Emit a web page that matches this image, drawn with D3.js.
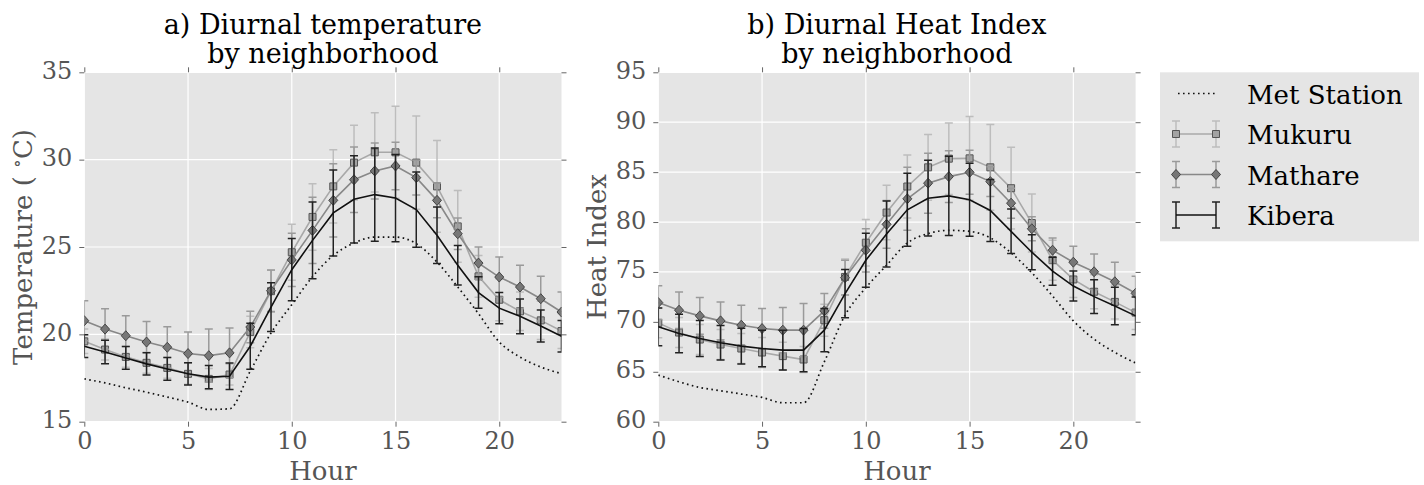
<!DOCTYPE html>
<html>
<head>
<meta charset="utf-8">
<script src="https://cdn.jsdelivr.net/npm/d3@7"></script>
<style>
  body { margin: 0; background: #fff; }
  svg text { font-family: "DejaVu Serif", serif; }
</style>
</head>
<body>
<svg id="chart"></svg>
<script>
const width = 1424, height = 485

// hour of day
const hours = d3.range(0, 24)

// a) temperature (deg C)
const metTemp  = [17.45, 17.22, 16.94, 16.69, 16.41, 16.12, 15.70, 15.74, 17.9, 20.08, 21.7, 23.3, 24.52, 25.23, 25.57, 25.57, 25.19, 24.14, 22.71, 21.18, 19.56, 18.7, 18.13, 17.75]
const mukTemp  = [19.6, 19.13, 18.71, 18.37, 18.08, 17.74, 17.45, 17.7, 20.13, 22.47, 24.7, 26.72, 28.47, 29.83, 30.42, 30.42, 29.83, 28.47, 26.18, 23.32, 21.98, 21.32, 20.8, 20.19]
const mukTempErr = [0.7, 0.6, 0.6, 0.6, 0.6, 0.6, 0.6, 0.6, 0.9, 1.2, 1.6, 1.9, 2.1, 2.14, 2.27, 2.63, 2.67, 2.63, 2.06, 1.2, 1.2, 1.1, 1.1, 1.0]
const mathTemp = [20.78, 20.3, 19.92, 19.56, 19.26, 18.9, 18.78, 18.94, 20.42, 22.5, 24.26, 25.95, 27.67, 28.85, 29.35, 29.64, 28.97, 27.67, 25.76, 24.08, 23.28, 22.71, 22.04, 21.28]
const mathTempErr = [1.14, 1.16, 1.14, 1.18, 1.18, 1.23, 1.52, 1.42, 0.9, 1.19, 1.52, 1.9, 2.1, 1.88, 1.6, 1.36, 1.0, 1.0, 0.9, 0.92, 1.15, 1.24, 1.28, 1.14]
const kibTemp  = [19.32, 18.99, 18.65, 18.31, 18.02, 17.74, 17.55, 17.6, 19.32, 21.56, 23.7, 25.38, 26.95, 27.73, 28.0, 27.8, 27.14, 25.67, 23.95, 22.39, 21.5, 21.03, 20.48, 19.89]
const kibTempErr = [0.65, 0.67, 0.65, 0.63, 0.65, 0.64, 0.67, 0.76, 1.32, 1.4, 1.78, 2.2, 2.46, 2.5, 2.67, 2.5, 2.15, 1.62, 1.13, 0.9, 0.9, 1.0, 0.92, 0.9]

// b) heat index
const metHI  = [64.67, 64.0, 63.43, 63.1, 62.77, 62.43, 61.9, 61.9, 66.0, 70.67, 73.43, 75.67, 77.9, 78.84, 79.17, 79.07, 78.41, 76.91, 74.92, 72.59, 70.1, 68.27, 66.94, 65.88]
const mukHI  = [69.9, 68.93, 68.23, 67.73, 67.33, 66.93, 66.57, 66.23, 70.17, 74.5, 77.93, 80.95, 83.56, 85.48, 86.35, 86.38, 85.48, 83.39, 79.9, 76.18, 74.25, 73.02, 72.0, 70.93]
const mukHIErr = [1.5, 1.5, 1.5, 1.5, 1.5, 1.5, 1.4, 1.3, 1.6, 1.8, 2.33, 2.73, 3.15, 3.29, 3.58, 4.2, 4.3, 4.09, 2.9, 2.0, 1.8, 1.7, 1.7, 1.7]
const mathHI = [71.93, 71.17, 70.6, 70.1, 69.67, 69.33, 69.17, 69.17, 71.1, 74.43, 77.17, 79.77, 82.33, 83.89, 84.55, 84.98, 84.05, 81.89, 79.33, 77.18, 75.98, 75.02, 74.02, 72.86]
const mathHIErr = [1.7, 1.83, 1.83, 1.9, 2.0, 2.0, 2.26, 2.66, 1.73, 1.74, 2.17, 2.4, 3.15, 3.0, 2.6, 2.2, 1.5, 1.5, 1.2, 1.23, 1.6, 1.79, 1.96, 1.7]
const kibHI  = [69.5, 68.83, 68.33, 67.9, 67.57, 67.33, 67.17, 67.17, 69.17, 72.83, 76.17, 78.8, 81.23, 82.39, 82.62, 82.23, 81.16, 79.07, 76.98, 75.08, 73.59, 72.53, 71.59, 70.6]
const kibHIErr = [1.9, 1.93, 1.8, 1.73, 1.8, 1.83, 2.0, 2.17, 2.17, 2.42, 2.7, 3.3, 3.66, 3.79, 3.98, 3.66, 3.1, 2.23, 1.75, 1.4, 1.5, 1.7, 1.87, 1.9]

const xTicks = [0, 5, 10, 15, 20]
const tempTicks = [15, 20, 25, 30, 35]
const hiTicks = [60, 65, 70, 75, 80, 85, 90, 95]
const legendNames = ["Met Station", "Mukuru", "Mathare", "Kibera"]

const svg = d3.select("#chart")
    .attr("width", width)
    .attr("height", height)

const top_ = 72.3, bottom_ = 421.7

function drawPanel(cfg) {
    let x = d3.scaleLinear().domain([0, 23]).range([cfg.left, cfg.right])
    let y = d3.scaleLinear().domain(cfg.domain).range([bottom_, top_])
    let g = svg.append("g")

    g.append("rect")
        .attr("x", cfg.left).attr("y", top_)
        .attr("width", cfg.right - cfg.left).attr("height", bottom_ - top_)
        .attr("fill", "#e5e5e5")

    let clipId = "clip" + cfg.id
    svg.append("clipPath").attr("id", clipId)
        .append("rect")
        .attr("x", cfg.left).attr("y", top_)
        .attr("width", cfg.right - cfg.left).attr("height", bottom_ - top_)

    // grid
    g.append("g").selectAll("line").data(xTicks).enter().append("line")
        .attr("x1", d => x(d)).attr("x2", d => x(d))
        .attr("y1", top_).attr("y2", bottom_)
        .attr("stroke", "#fff").attr("stroke-width", 1.2)
    g.append("g").selectAll("line").data(cfg.ticks).enter().append("line")
        .attr("x1", cfg.left).attr("x2", cfg.right)
        .attr("y1", d => y(d)).attr("y2", d => y(d))
        .attr("stroke", "#fff").attr("stroke-width", 1.2)

    // axes
    let styleAxis = (a) => {
        a.select(".domain").remove()
        a.selectAll(".tick line").attr("stroke", "#666").attr("stroke-width", 1)
        a.selectAll(".tick text")
            .attr("fill", "#555")
            .style("font-family", "DejaVu Serif")
            .style("font-size", "24px")
    }
    g.append("g").attr("transform", `translate(0,${bottom_})`)
        .call(d3.axisBottom(x).tickValues(xTicks).tickSize(5).tickPadding(5))
        .call(styleAxis)
    g.append("g").attr("transform", `translate(0,${top_})`)
        .call(d3.axisTop(x).tickValues(xTicks).tickSize(5).tickFormat(""))
        .call(styleAxis)
    g.append("g").attr("transform", `translate(${cfg.left},0)`)
        .call(d3.axisLeft(y).tickValues(cfg.ticks).tickSize(5).tickPadding(7))
        .call(styleAxis)
        .call(a => a.selectAll(".tick text").attr("dy", "0.25em"))
    g.append("g").attr("transform", `translate(${cfg.right},0)`)
        .call(d3.axisRight(y).tickValues(cfg.ticks).tickSize(5).tickFormat(""))
        .call(styleAxis)

    let plot = g.append("g").attr("clip-path", `url(#${clipId})`)

    // met station
    plot.append("path")
        .datum(hours)
        .attr("fill", "none")
        .attr("stroke", "#111")
        .attr("stroke-width", 1.7)
        .attr("stroke-dasharray", "1.6,3.4")
        .attr("d", d3.line().x(h => x(h)).y(h => y(cfg.met[h])).curve(d3.curveMonotoneX))

    let drawSeries = (vals, errs, s) => {
        let sg = plot.append("g")
        sg.append("g").selectAll("path").data(hours).enter().append("path")
            .attr("d", h => {
                let xx = x(h), y1 = y(vals[h] - errs[h]), y2 = y(vals[h] + errs[h])
                return `M${xx},${y1}V${y2}M${xx - 4},${y1}H${xx + 4}M${xx - 4},${y2}H${xx + 4}`
            })
            .attr("fill", "none")
            .attr("stroke", s.err)
            .attr("stroke-width", 1.5)
        sg.append("path")
            .datum(hours)
            .attr("fill", "none")
            .attr("stroke", s.line)
            .attr("stroke-width", 1.6)
            .attr("d", d3.line().x(h => x(h)).y(h => y(vals[h])))
        if (s.marker) {
            sg.append("g").selectAll("path").data(hours).enter().append("path")
                .attr("transform", h => `translate(${x(h)},${y(vals[h])})`)
                .attr("d", s.marker)
                .attr("fill", s.fill)
                .attr("stroke", s.edge)
                .attr("stroke-width", 1)
        }
    }
    drawSeries(cfg.muk, cfg.mukErr, mukStyle)
    drawSeries(cfg.math, cfg.mathErr, mathStyle)
    drawSeries(cfg.kib, cfg.kibErr, kibStyle)

    // titles
    let cx = (cfg.left + cfg.right) / 2
    let title = g.append("text")
        .attr("text-anchor", "middle")
        .attr("fill", "#000")
        .style("font-size", "27px")
    title.append("tspan").attr("x", cx).attr("y", 34).text(cfg.title[0])
    title.append("tspan").attr("x", cx).attr("y", 63).text(cfg.title[1])

    g.append("text")
        .attr("x", cx).attr("y", 480)
        .attr("text-anchor", "middle")
        .attr("fill", "#555")
        .style("font-size", "26px")
        .text("Hour")

    let yl = g.append("text")
        .attr("transform", `translate(${cfg.left - 52},${(top_ + bottom_) / 2}) rotate(-90)`)
        .attr("text-anchor", "middle")
        .attr("fill", "#555")
        .style("font-size", "26px")
    cfg.ylabel(yl)
}

const squarePath = "M-3.5,-3.5H3.5V3.5H-3.5Z"
const diamondPath = "M0,-5L4.5,0L0,5L-4.5,0Z"
const mukStyle = { line: "#a8a8a8", err: "#bdbdbd", marker: squarePath, fill: "#a3a3a3", edge: "#555" }
const mathStyle = { line: "#888", err: "#9a9a9a", marker: diamondPath, fill: "#777", edge: "#444" }
const kibStyle = { line: "#111", err: "#222", marker: null }

drawPanel({
    id: "a", left: 84.3, right: 561.5, domain: [15, 35], ticks: tempTicks,
    met: metTemp, muk: mukTemp, mukErr: mukTempErr, math: mathTemp, mathErr: mathTempErr,
    kib: kibTemp, kibErr: kibTempErr,
    title: ["a) Diurnal temperature", "by neighborhood"],
    ylabel: t => {
        t.append("tspan").text("Temperature ( ")
        t.append("tspan").attr("dy", -9).style("font-size", "18px").text("∘")
        t.append("tspan").attr("dy", 9).text("C)")
    }
})

drawPanel({
    id: "b", left: 658.3, right: 1135.6, domain: [60, 95], ticks: hiTicks,
    met: metHI, muk: mukHI, mukErr: mukHIErr, math: mathHI, mathErr: mathHIErr,
    kib: kibHI, kibErr: kibHIErr,
    title: ["b) Diurnal Heat Index", "by neighborhood"],
    ylabel: t => t.text("Heat Index")
})

// legend
const leg = svg.append("g")
leg.append("rect")
    .attr("x", 1160).attr("y", 72.3)
    .attr("width", 259).attr("height", 169)
    .attr("fill", "#e5e5e5")

const legY = d3.scalePoint().domain(legendNames).range([93.5, 215])
const legStyles = [null, mukStyle, mathStyle, kibStyle]
legendNames.forEach((name, i) => {
    let yy = legY(name)
    let x1 = 1176, x2 = 1216
    let lg = leg.append("g")
    if (i === 0) {
        lg.append("line")
            .attr("x1", 1178).attr("x2", 1216).attr("y1", yy).attr("y2", yy)
            .attr("stroke", "#111").attr("stroke-width", 1.7)
            .attr("stroke-dasharray", "1.6,3.4")
    } else {
        let s = legStyles[i]
        ;[x1, x2].forEach(xx => {
            lg.append("path")
                .attr("d", `M${xx},${yy - 13}V${yy + 13}M${xx - 4},${yy - 13}H${xx + 4}M${xx - 4},${yy + 13}H${xx + 4}`)
                .attr("fill", "none").attr("stroke", s.err).attr("stroke-width", 1.5)
        })
        lg.append("line")
            .attr("x1", x1).attr("x2", x2).attr("y1", yy).attr("y2", yy)
            .attr("stroke", s.line).attr("stroke-width", 1.6)
        if (s.marker) {
            ;[x1, x2].forEach(xx => {
                lg.append("path")
                    .attr("transform", `translate(${xx},${yy})`)
                    .attr("d", s.marker)
                    .attr("fill", s.fill).attr("stroke", s.edge).attr("stroke-width", 1)
            })
        }
    }
    lg.append("text")
        .attr("x", 1247).attr("y", yy + 10)
        .attr("fill", "#000")
        .style("font-size", "26px")
        .text(name)
})
</script>
</body>
</html>
